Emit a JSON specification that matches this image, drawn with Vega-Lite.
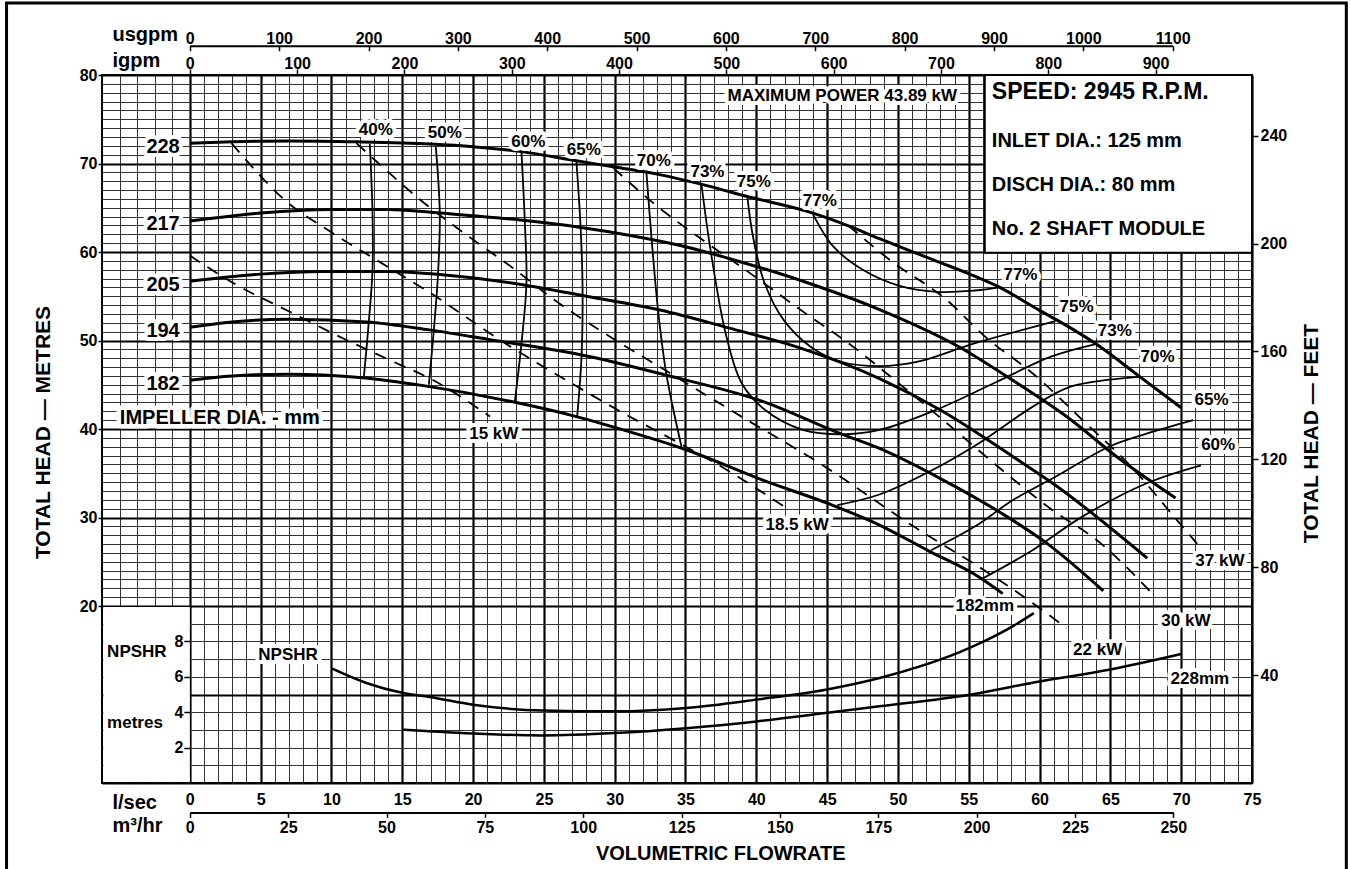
{
"$schema": "https://vega.github.io/schema/vega-lite/v6.json",
"width": 1150, "height": 708,
"autosize": {"type": "none"},
"padding": {"left": 102, "top": 75, "right": 98, "bottom": 86},
"background": "#ffffff",
"config": {
  "view": {"stroke": "#000000", "strokeWidth": 2},
  "font": "Liberation Sans",
  "axis": {"labelFont": "Liberation Sans", "titleFont": "Liberation Sans", "labelFontWeight": "bold", "titleFontWeight": "bold", "labelColor": "#000", "titleColor": "#000", "labelFontSize": 16, "titleFontSize": 20, "domainColor": "#000", "tickColor": "#000", "labelOverlap": false, "labelFlush": false, "labelBound": false},
  "text": {"font": "Liberation Sans", "fontWeight": "bold", "color": "#000"}
},
"datasets": {
  "impeller": [
    {"d":"228","q":0,"H":72.3},{"d":"228","q":3,"H":72.45},{"d":"228","q":7,"H":72.55},{"d":"228","q":11.8,"H":72.45},{"d":"228","q":17,"H":72.2},{"d":"228","q":20,"H":71.9},{"d":"228","q":24,"H":71.2},{"d":"228","q":27.3,"H":70.3},{"d":"228","q":30,"H":69.6},{"d":"228","q":33,"H":68.8},{"d":"228","q":36.5,"H":67.5},{"d":"228","q":39.3,"H":66.3},{"d":"228","q":44,"H":64.4},{"d":"228","q":46.6,"H":62.9},{"d":"228","q":48.7,"H":61.5},{"d":"228","q":51,"H":60.05},{"d":"228","q":53,"H":58.8},{"d":"228","q":55.07,"H":57.5},{"d":"228","q":57.19,"H":56.0},{"d":"228","q":60,"H":53.4},{"d":"228","q":62,"H":51.6},{"d":"228","q":64,"H":49.6},{"d":"228","q":67,"H":46.0},{"d":"228","q":70,"H":42.4},
    {"d":"217","q":0,"H":63.5},{"d":"217","q":5,"H":64.4},{"d":"217","q":10,"H":64.8},{"d":"217","q":14,"H":64.8},{"d":"217","q":17,"H":64.5},{"d":"217","q":20,"H":64.1},{"d":"217","q":24,"H":63.5},{"d":"217","q":27.5,"H":62.8},{"d":"217","q":31,"H":61.9},{"d":"217","q":35,"H":60.6},{"d":"217","q":38,"H":59.3},{"d":"217","q":43.3,"H":56.7},{"d":"217","q":48.7,"H":53.5},{"d":"217","q":54.3,"H":49.3},{"d":"217","q":58.4,"H":45.2},{"d":"217","q":62,"H":41.3},{"d":"217","q":65.5,"H":36.8},{"d":"217","q":69.6,"H":32.2},
    {"d":"205","q":0,"H":56.7},{"d":"205","q":5,"H":57.5},{"d":"205","q":9.4,"H":57.8},{"d":"205","q":14,"H":57.8},{"d":"205","q":18,"H":57.4},{"d":"205","q":23.5,"H":56.3},{"d":"205","q":28,"H":55.0},{"d":"205","q":33.2,"H":53.45},{"d":"205","q":38.1,"H":51.4},{"d":"205","q":42.8,"H":49.3},{"d":"205","q":48.7,"H":45.7},{"d":"205","q":53,"H":42.15},{"d":"205","q":58.1,"H":36.9},{"d":"205","q":60.9,"H":33.9},{"d":"205","q":67.6,"H":25.4},
    {"d":"194","q":0,"H":51.5},{"d":"194","q":3,"H":52.1},{"d":"194","q":7,"H":52.4},{"d":"194","q":12.5,"H":52.1},{"d":"194","q":16.9,"H":51.2},{"d":"194","q":21.2,"H":50.1},{"d":"194","q":28.2,"H":48.2},{"d":"194","q":33.6,"H":46.1},{"d":"194","q":40.5,"H":43.1},{"d":"194","q":45.9,"H":39.5},{"d":"194","q":48.7,"H":37.8},{"d":"194","q":53,"H":34.4},{"d":"194","q":57.7,"H":30.1},{"d":"194","q":60.5,"H":27.1},{"d":"194","q":64.5,"H":21.7},
    {"d":"182","q":0,"H":45.5},{"d":"182","q":3,"H":46.0},{"d":"182","q":7,"H":46.2},{"d":"182","q":9.4,"H":46.1},{"d":"182","q":12.2,"H":45.8},{"d":"182","q":16.5,"H":44.9},{"d":"182","q":23.3,"H":42.9},{"d":"182","q":27.3,"H":41.4},{"d":"182","q":30.6,"H":39.9},{"d":"182","q":34.8,"H":37.8},{"d":"182","q":40.5,"H":34.2},{"d":"182","q":45.2,"H":31.5},{"d":"182","q":48.7,"H":29.15},{"d":"182","q":52.2,"H":26.2},{"d":"182","q":55.8,"H":23.2},{"d":"182","q":57.4,"H":21.4}
  ],
  "eff": [
    {"e":"40","i":1,"q":12.71,"H":72.2},{"e":"40","i":2,"q":12.9,"H":64.4},{"e":"40","i":3,"q":12.9,"H":58.0},{"e":"40","i":4,"q":12.59,"H":51.2},{"e":"40","i":5,"q":12.29,"H":45.9},
    {"e":"50","i":1,"q":17.37,"H":71.9},{"e":"50","i":2,"q":17.65,"H":64.4},{"e":"50","i":3,"q":17.53,"H":57.6},{"e":"50","i":4,"q":17.23,"H":51.2},{"e":"50","i":5,"q":16.88,"H":45.0},
    {"e":"60","i":1,"q":23.42,"H":71.2},{"e":"60","i":2,"q":23.65,"H":63.6},{"e":"60","i":3,"q":23.77,"H":56.5},{"e":"60","i":4,"q":23.42,"H":49.7},{"e":"60","i":5,"q":22.95,"H":43.1},
    {"e":"65","i":1,"q":27.3,"H":70.2},{"e":"65","i":2,"q":27.59,"H":62.9},{"e":"65","i":3,"q":27.73,"H":56.1},{"e":"65","i":4,"q":27.66,"H":48.2},{"e":"65","i":5,"q":27.35,"H":41.4},
    {"e":"70a","i":1,"q":32.24,"H":69.0},{"e":"70a","i":2,"q":32.6,"H":61.6},{"e":"70a","i":3,"q":33.07,"H":53.3},{"e":"70a","i":4,"q":33.66,"H":46.1},{"e":"70a","i":5,"q":34.72,"H":38.0},
    {"e":"73","i":1,"q":36.13,"H":67.6},{"e":"73","i":2,"q":36.8,"H":59.9},{"e":"73","i":3,"q":37.88,"H":50.5},{"e":"73","i":4,"q":38.96,"H":45.2},{"e":"73","i":5,"q":40.58,"H":42.2},{"e":"73","i":6,"q":43.28,"H":39.9},{"e":"73","i":7,"q":45.99,"H":39.4},{"e":"73","i":8,"q":48.7,"H":39.9},{"e":"73","i":9,"q":52.74,"H":42.2},{"e":"73","i":10,"q":56.8,"H":45.2},{"e":"73","i":11,"q":60.85,"H":48.2},{"e":"73","i":12,"q":63.96,"H":49.6},
    {"e":"75","i":1,"q":39.37,"H":66.2},{"e":"75","i":2,"q":39.77,"H":61.7},{"e":"75","i":3,"q":40.58,"H":56.5},{"e":"75","i":4,"q":41.94,"H":52.3},{"e":"75","i":5,"q":43.83,"H":49.3},{"e":"75","i":6,"q":45.99,"H":47.6},{"e":"75","i":7,"q":48.69,"H":47.1},{"e":"75","i":8,"q":51.4,"H":47.6},{"e":"75","i":9,"q":55.45,"H":49.7},{"e":"75","i":10,"q":61.12,"H":52.2},
    {"e":"77","i":1,"q":43.96,"H":64.4},{"e":"77","i":2,"q":45.45,"H":60.6},{"e":"77","i":3,"q":47.61,"H":57.9},{"e":"77","i":4,"q":50.05,"H":56.2},{"e":"77","i":5,"q":52.74,"H":55.5},{"e":"77","i":6,"q":55.45,"H":55.65},{"e":"77","i":7,"q":57.21,"H":56.0},
    {"e":"70b","i":1,"q":45.72,"H":31.4},{"e":"70b","i":2,"q":48.69,"H":32.6},{"e":"70b","i":3,"q":52.47,"H":35.4},{"e":"70b","i":4,"q":55.72,"H":38.4},{"e":"70b","i":5,"q":59.5,"H":42.5},{"e":"70b","i":6,"q":62.2,"H":44.8},{"e":"70b","i":7,"q":67.07,"H":45.9},
    {"e":"65b","i":1,"q":52.34,"H":26.3},{"e":"65b","i":2,"q":55.45,"H":29.0},{"e":"65b","i":3,"q":58.15,"H":32.0},{"e":"65b","i":4,"q":61.12,"H":34.6},{"e":"65b","i":5,"q":64.9,"H":38.0},{"e":"65b","i":6,"q":67.61,"H":39.5},{"e":"65b","i":7,"q":70.85,"H":41.0},
    {"e":"60b","i":1,"q":55.85,"H":23.0},{"e":"60b","i":2,"q":59.5,"H":26.3},{"e":"60b","i":3,"q":63.02,"H":30.1},{"e":"60b","i":4,"q":67.61,"H":33.9},{"e":"60b","i":5,"q":71.4,"H":35.9}
  ],
  "power": [
    {"p":"15","q":0,"H":59.6},{"p":"15","q":3.06,"H":56.5},{"p":"15","q":6.8,"H":53.45},{"p":"15","q":11.06,"H":50.06},{"p":"15","q":14.1,"H":47.8},{"p":"15","q":17.2,"H":45.5},{"p":"15","q":21.2,"H":41.4},
    {"p":"18.5","q":2.94,"H":72.3},{"p":"18.5","q":6.83,"H":65.7},{"p":"18.5","q":10.12,"H":62.1},{"p":"18.5","q":13.9,"H":58.4},{"p":"18.5","q":16.95,"H":55.4},{"p":"18.5","q":21.9,"H":50.06},{"p":"18.5","q":28.2,"H":44.0},{"p":"18.5","q":30.6,"H":41.8},{"p":"18.5","q":34.1,"H":38.8},{"p":"18.5","q":37.9,"H":35.4},{"p":"18.5","q":41.9,"H":31.3},
    {"p":"22","q":11.76,"H":72.3},{"p":"22","q":13.2,"H":70.2},{"p":"22","q":16.5,"H":65.6},{"p":"22","q":20,"H":61.4},{"p":"22","q":22.8,"H":58.2},{"p":"22","q":25.9,"H":54.4},{"p":"22","q":29.9,"H":50.2},{"p":"22","q":33.2,"H":47.0},{"p":"22","q":38.95,"H":41.4},{"p":"22","q":44.6,"H":36.0},{"p":"22","q":51.1,"H":29.0},{"p":"22","q":56.8,"H":23.3},{"p":"22","q":59.8,"H":20.0},{"p":"22","q":61.9,"H":17.5},
    {"p":"30","q":29.9,"H":69.5},{"p":"30","q":32.9,"H":65.3},{"p":"30","q":36,"H":61.6},{"p":"30","q":38.95,"H":58.3},{"p":"30","q":43.8,"H":52.7},{"p":"30","q":46.5,"H":49.7},{"p":"30","q":49.8,"H":45.5},{"p":"30","q":53.5,"H":40.6},{"p":"30","q":56.8,"H":36.1},{"p":"30","q":60.6,"H":31.2},{"p":"30","q":64.3,"H":27.1},{"p":"30","q":67.9,"H":21.5},
    {"p":"37","q":46.5,"H":63.0},{"p":"37","q":49.43,"H":59.1},{"p":"37","q":53.43,"H":54.6},{"p":"37","q":56.25,"H":50.3},{"p":"37","q":59.5,"H":46.3},{"p":"37","q":63.3,"H":40.6},{"p":"37","q":66.5,"H":35.7},{"p":"37","q":69.7,"H":29.7},{"p":"37","q":71.2,"H":26.9}
  ],
  "npshr": [
    {"m":"182","q":10.05,"N":6.46},{"m":"182","q":12.47,"N":5.65},{"m":"182","q":15.06,"N":5.08},{"m":"182","q":16.94,"N":4.86},{"m":"182","q":20,"N":4.42},{"m":"182","q":24.9,"N":4.1},{"m":"182","q":30,"N":4.05},{"m":"182","q":35.06,"N":4.24},{"m":"182","q":40,"N":4.71},{"m":"182","q":44.9,"N":5.27},{"m":"182","q":48.7,"N":5.93},{"m":"182","q":55.06,"N":7.63},{"m":"182","q":58.1,"N":8.85},{"m":"182","q":59.6,"N":9.6},
    {"m":"228","q":15.06,"N":3.01},{"m":"228","q":16.94,"N":2.92},{"m":"228","q":20,"N":2.79},{"m":"228","q":24.9,"N":2.69},{"m":"228","q":30,"N":2.82},{"m":"228","q":35.06,"N":3.1},{"m":"228","q":40,"N":3.48},{"m":"228","q":44.9,"N":3.95},{"m":"228","q":48.7,"N":4.33},{"m":"228","q":55.06,"N":4.99},{"m":"228","q":60,"N":5.74},{"m":"228","q":64.9,"N":6.4},{"m":"228","q":70,"N":7.29}
  ],
  "labImp": [
    {"t":"228","q":-0.71,"H":71.9},{"t":"217","q":-0.71,"H":63.2},{"t":"205","q":-0.71,"H":56.3},{"t":"194","q":-0.71,"H":51.1},{"t":"182","q":-0.71,"H":45.1}
  ],
  "lab17": [
    {"t":"40%","q":13.13,"H":73.8},{"t":"50%","q":18.0,"H":73.45},{"t":"60%","q":23.9,"H":72.38},{"t":"65%","q":27.82,"H":71.48},{"t":"70%","q":32.76,"H":70.24},{"t":"73%","q":36.55,"H":69.0},{"t":"75%","q":39.82,"H":67.87},{"t":"77%","q":44.48,"H":65.8},
    {"t":"77%","q":58.65,"H":57.44},{"t":"75%","q":62.61,"H":53.79},{"t":"73%","q":65.31,"H":51.1},{"t":"70%","q":68.33,"H":48.14},{"t":"65%","q":72.14,"H":43.31},{"t":"60%","q":72.61,"H":38.23},
    {"t":"MAXIMUM POWER 43.89 kW","q":46.07,"H":77.58},
    {"t":"15 kW","q":21.46,"H":39.47},{"t":"18.5 kW","q":42.88,"H":29.19},{"t":"22 kW","q":64.1,"H":15.06},{"t":"30 kW","q":70.33,"H":18.26},{"t":"37 kW","q":72.73,"H":25.12},
    {"t":"182mm","q":56.13,"H":19.96},{"t":"228mm","q":71.32,"H":11.75},{"t":"NPSHR","q":6.94,"H":14.42}
  ],
  "labBig": [{"t":"IMPELLER DIA. - mm","q":2.12,"H":41.24}],
  "info23": [{"t":"SPEED: 2945 R.P.M.","q":56.63,"H":78.04}],
  "info20": [{"t":"INLET DIA.: 125 mm","q":56.63,"H":72.5},{"t":"DISCH DIA.: 80 mm","q":56.63,"H":67.53},{"t":"No. 2 SHAFT MODULE","q":56.63,"H":62.59}],
  "side": [{"t":"NPSHR","q":-5.84,"H":14.8},{"t":"metres","q":-5.84,"H":6.78}],
  "xtitle": [{"t":"VOLUMETRIC FLOWRATE","q":37.49,"H":-8.05}]
},
"resolve": {"scale": {"x": "independent", "y": "independent"}, "axis": {"x": "independent", "y": "independent"}},
"layer": [
  {
    "data": {"values": [{"v": 0}]},
    "mark": {"type": "point", "opacity": 0},
    "encoding": {
      "x": {"field": "v", "type": "quantitative", "scale": {"domain": [-6.2, 75], "nice": false, "zero": false},
        "axis": {"orient": "bottom", "values": [-4.96,-3.72,-2.48,-1.24,0,1,2,3,4,5,6,7,8,9,10,11,12,13,14,15,16,17,18,19,20,21,22,23,24,25,26,27,28,29,30,31,32,33,34,35,36,37,38,39,40,41,42,43,44,45,46,47,48,49,50,51,52,53,54,55,56,57,58,59,60,61,62,63,64,65,66,67,68,69,70,71,72,73,74,75],
          "grid": true,
          "gridColor": {"condition": {"test": "datum.value % 5 === 0", "value": "#000000"}, "value": "#333333"},
          "gridWidth": {"condition": {"test": "datum.value % 5 === 0", "value": 2.2}, "value": 1},
          "ticks": false, "tickSize": 0, "domain": false,
          "labelExpr": "datum.value >= 0 && datum.value % 5 === 0 ? datum.label : ''",
          "labelPadding": 8,
          "title": "l/sec", "titleAngle": 0, "titleAlign": "left", "titleBaseline": "alphabetic", "titleX": 10, "titleY": 25, "titleFontSize": 20,
          "zindex": 0}}
    }
  },
  {
    "data": {"values": [{"v": 0}]},
    "mark": {"type": "point", "opacity": 0},
    "encoding": {
      "y": {"field": "v", "type": "quantitative", "scale": {"domain": [0, 80], "nice": false, "zero": false},
        "axis": {"orient": "left", "values": [0,2,4,6,8,10,12,14,16,18,20,21,22,23,24,25,26,27,28,29,30,31,32,33,34,35,36,37,38,39,40,41,42,43,44,45,46,47,48,49,50,51,52,53,54,55,56,57,58,59,60,61,62,63,64,65,66,67,68,69,70,71,72,73,74,75,76,77,78,79,80],
          "grid": true,
          "gridColor": {"condition": {"test": "datum.value % 10 === 0", "value": "#000000"}, "value": "#333333"},
          "gridWidth": {"condition": {"test": "datum.value % 10 === 0", "value": 2.2}, "value": 1},
          "tickSize": 4, "tickWidth": 1.5,
          "tickOpacity": {"condition": {"test": "datum.value >= 20 && datum.value % 10 === 0", "value": 1}, "value": 0},
          "domain": false,
          "labelExpr": "datum.value >= 20 && datum.value % 10 === 0 ? datum.label : ''",
          "labelPadding": 1,
          "title": "TOTAL HEAD — METRES", "titleAngle": 270, "titleAlign": "center", "titleBaseline": "middle", "titleX": -59, "titleY": 357, "titleFontSize": 21,
          "zindex": 0}}
    }
  },
  {
    "data": {"values": [{}]},
    "mark": {"type": "rect", "fill": "#ffffff", "strokeWidth": 0},
    "encoding": {
      "x": {"datum": -6.1, "type": "quantitative", "scale": {"domain": [-6.2, 75], "nice": false, "zero": false}, "axis": null},
      "x2": {"datum": 0},
      "y": {"datum": 0.1, "type": "quantitative", "scale": {"domain": [0, 80], "nice": false, "zero": false}, "axis": null},
      "y2": {"datum": 19.9}
    }
  },
  {
    "data": {"values": [{}]},
    "mark": {"type": "rect", "fill": "#ffffff", "stroke": "#000000", "strokeWidth": 2},
    "encoding": {
      "x": {"datum": 56.13, "type": "quantitative", "scale": {"domain": [-6.2, 75], "nice": false, "zero": false}, "axis": null},
      "x2": {"datum": 75},
      "y": {"datum": 59.92, "type": "quantitative", "scale": {"domain": [0, 80], "nice": false, "zero": false}, "axis": null},
      "y2": {"datum": 80}
    }
  },
  {
    "encoding": {
      "x": {"field": "q", "type": "quantitative", "scale": {"domain": [-6.2, 75], "nice": false, "zero": false}, "axis": null},
      "y": {"field": "H", "type": "quantitative", "scale": {"domain": [0, 80], "nice": false, "zero": false}, "axis": null}
    },
    "layer": [
      {"data": {"name": "impeller"}, "mark": {"type": "line", "interpolate": "monotone", "strokeWidth": 3, "color": "#000000"},
       "encoding": {"detail": {"field": "d"}}},
      {"data": {"name": "eff"}, "mark": {"type": "line", "interpolate": "catmull-rom", "strokeWidth": 1.8, "color": "#000000"},
       "encoding": {"detail": {"field": "e"}, "order": {"field": "i", "type": "quantitative"}}},
      {"data": {"name": "power"}, "mark": {"type": "line", "interpolate": "monotone", "strokeWidth": 1.8, "strokeDash": [12, 9], "color": "#000000"},
       "encoding": {"detail": {"field": "p"}}},
      {"data": {"name": "labImp"}, "mark": {"type": "text", "fontSize": 20, "fontWeight": "bold", "align": "right", "baseline": "middle", "fill": "#ffffff", "stroke": "#ffffff", "strokeWidth": 8, "strokeJoin": "round"},
       "encoding": {"text": {"field": "t"}}},
      {"data": {"name": "labImp"}, "mark": {"type": "text", "fontSize": 20, "fontWeight": "bold", "align": "right", "baseline": "middle", "fill": "#000000"},
       "encoding": {"text": {"field": "t"}}},
      {"data": {"name": "lab17"}, "mark": {"type": "text", "fontSize": 17, "fontWeight": "bold", "align": "center", "baseline": "middle", "fill": "#ffffff", "stroke": "#ffffff", "strokeWidth": 8, "strokeJoin": "round"},
       "encoding": {"text": {"field": "t"}}},
      {"data": {"name": "lab17"}, "mark": {"type": "text", "fontSize": 17, "fontWeight": "bold", "align": "center", "baseline": "middle", "fill": "#000000"},
       "encoding": {"text": {"field": "t"}}},
      {"data": {"name": "labBig"}, "mark": {"type": "text", "fontSize": 20, "fontWeight": "bold", "align": "center", "baseline": "middle", "fill": "#ffffff", "stroke": "#ffffff", "strokeWidth": 9, "strokeJoin": "round"},
       "encoding": {"text": {"field": "t"}}},
      {"data": {"name": "labBig"}, "mark": {"type": "text", "fontSize": 20, "fontWeight": "bold", "align": "center", "baseline": "middle", "fill": "#000000"},
       "encoding": {"text": {"field": "t"}}},
      {"data": {"name": "info23"}, "mark": {"type": "text", "fontSize": 23, "fontWeight": "bold", "align": "left", "baseline": "middle", "fill": "#000000"},
       "encoding": {"text": {"field": "t"}}},
      {"data": {"name": "info20"}, "mark": {"type": "text", "fontSize": 20, "fontWeight": "bold", "align": "left", "baseline": "middle", "fill": "#000000"},
       "encoding": {"text": {"field": "t"}}},
      {"data": {"name": "side"}, "mark": {"type": "text", "fontSize": 17, "fontWeight": "bold", "align": "left", "baseline": "middle", "fill": "#000000"},
       "encoding": {"text": {"field": "t"}}},
      {"data": {"name": "xtitle"}, "mark": {"type": "text", "fontSize": 20, "fontWeight": "bold", "align": "center", "baseline": "middle", "fill": "#000000"},
       "encoding": {"text": {"field": "t"}}}
    ]
  },
  {
    "data": {"name": "npshr"},
    "mark": {"type": "line", "interpolate": "monotone", "strokeWidth": 2.5, "color": "#000000"},
    "encoding": {
      "x": {"field": "q", "type": "quantitative", "scale": {"domain": [-6.2, 75], "nice": false, "zero": false}, "axis": null},
      "y": {"field": "N", "type": "quantitative", "scale": {"domain": [0, 40], "nice": false, "zero": false},
        "axis": {"orient": "left", "offset": -87.81, "values": [2,4,6,8], "grid": false, "domain": false, "tickSize": 6, "tickWidth": 1.5, "labelPadding": 1, "title": null, "zindex": 1}},
      "detail": {"field": "m"}
    }
  },
  {
    "data": {"values": [{}]},
    "mark": {"type": "rect", "fill": "transparent", "fillOpacity": 0, "stroke": "#000000", "strokeWidth": 3},
    "encoding": {
      "x": {"datum": -12.94, "type": "quantitative", "scale": {"domain": [-6.2, 75], "nice": false, "zero": false}, "axis": null},
      "x2": {"datum": 81.66},
      "y": {"datum": 88.14, "type": "quantitative", "scale": {"domain": [0, 80], "nice": false, "zero": false}, "axis": null},
      "y2": {"datum": -12}
    }
  },
  {
    "data": {"values": [{"v": 0}]},
    "mark": {"type": "point", "opacity": 0},
    "encoding": {
      "x": {"field": "v", "type": "quantitative", "scale": {"domain": [0, 1100], "range": [87.81, 1070.68], "nice": false, "zero": false},
        "axis": {"orient": "top", "offset": 29.3, "values": [0,100,200,300,400,500,600,700,800,900,1000,1100], "format": "d", "grid": false, "domain": true, "domainWidth": 2, "tickSize": -5, "tickWidth": 1.5, "labelPadding": 7.4, "labelBaseline": "alphabetic",
          "title": "usgpm", "titleAngle": 0, "titleAlign": "left", "titleBaseline": "alphabetic", "titleX": 10, "titleY": -5, "titleFontSize": 20, "zindex": 1}}
    }
  },
  {
    "data": {"values": [{"v": 0}]},
    "mark": {"type": "point", "opacity": 0},
    "encoding": {
      "x": {"field": "v", "type": "quantitative", "scale": {"domain": [0, 900], "range": [87.81, 1053.57], "nice": false, "zero": false},
        "axis": {"orient": "top", "offset": 0, "values": [0,100,200,300,400,500,600,700,800,900], "format": "d", "grid": false, "domain": false, "tickSize": 6, "tickWidth": 1.5, "labelPadding": 1, "labelBaseline": "alphabetic",
          "title": "igpm", "titleAngle": 0, "titleAlign": "left", "titleBaseline": "alphabetic", "titleX": 10, "titleY": -8.3, "titleFontSize": 20, "zindex": 1}}
    }
  },
  {
    "data": {"values": [{"v": 0}]},
    "mark": {"type": "point", "opacity": 0},
    "encoding": {
      "x": {"field": "v", "type": "quantitative", "scale": {"domain": [0, 250], "range": [87.81, 1071.32], "nice": false, "zero": false},
        "axis": {"orient": "bottom", "offset": 29.4, "values": [0,25,50,75,100,125,150,175,200,225,250], "format": "d", "grid": false, "domain": true, "domainWidth": 2, "tickSize": 5, "tickWidth": 1.5, "labelPadding": 2,
          "title": "m³/hr", "titleAngle": 0, "titleAlign": "left", "titleBaseline": "alphabetic", "titleX": 10, "titleY": 19, "titleFontSize": 20, "zindex": 1}}
    }
  },
  {
    "data": {"values": [{"v": 0}]},
    "mark": {"type": "point", "opacity": 0},
    "encoding": {
      "y": {"field": "v", "type": "quantitative", "scale": {"domain": [0, 262.467], "nice": false, "zero": false},
        "axis": {"orient": "right", "values": [40,80,120,160,200,240], "grid": false, "domain": false, "tickSize": 6, "tickWidth": 1.5, "labelPadding": 2,
          "title": "TOTAL HEAD — FEET", "titleAngle": 270, "titleAlign": "center", "titleBaseline": "middle", "titleX": 59.7, "titleY": 358, "titleFontSize": 21, "zindex": 1}}
    }
  }
]
}
